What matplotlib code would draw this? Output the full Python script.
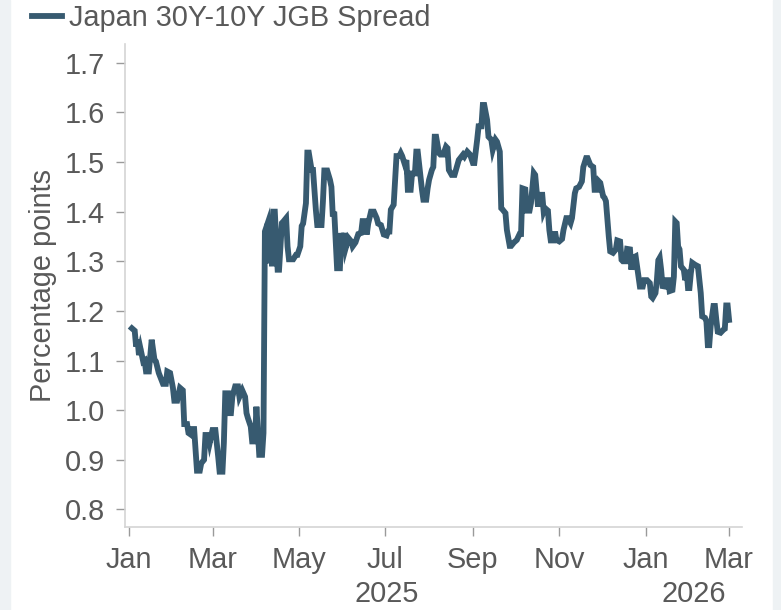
import pandas as pd
import matplotlib
matplotlib.use("Agg")
import matplotlib.pyplot as plt
import matplotlib.dates as mdates
import matplotlib.transforms as mtransforms
from matplotlib.patches import Rectangle

# days since 2025-01-01 and the 30Y-10Y spread (percentage points)
start_date = "2025-01-01"
day_offsets = [
    2, 4, 5, 6, 7, 8, 10, 11, 12, 14, 16, 18, 19, 21, 24, 26, 27, 29, 31, 32,
    34, 36, 38, 39, 41, 42, 44, 45, 46, 48, 50, 51, 53, 54, 56, 57, 59, 61, 62, 63,
    64, 66, 67, 68, 70, 71, 72, 73, 75, 77, 78, 80, 82, 83, 84, 86, 87, 89, 90, 91,
    92, 94, 95, 96, 98, 99, 100, 101, 102, 103, 105, 106, 108, 109,
    111, 112, 113, 116, 118, 119, 121, 122, 123, 125, 126, 127, 129, 130, 132, 133,
    136, 137, 138, 140, 142, 143, 144, 145, 147, 149, 150, 151, 152, 153, 155, 157,
    158, 160, 162, 164, 165, 167, 168, 169, 171, 173, 175, 176, 178, 180, 182, 183,
    184, 185, 187, 189, 191, 192, 193, 195, 196, 197, 199, 200, 202, 203, 204, 206,
    207, 208, 210, 211, 212, 214, 215, 216, 217, 219,
    220, 222, 224, 225, 226, 228, 230, 232, 233, 236, 237, 239, 241, 243, 244, 246,
    247, 249, 250, 251, 253, 254, 256, 257, 259, 260, 262, 263, 264, 266, 267, 269,
    270, 272, 274, 276, 277, 278, 280, 281, 283, 284, 286, 287, 289, 290, 292, 293,
    294, 296, 297, 298, 300, 301, 302, 304, 306, 307, 309, 310, 312, 313, 315, 316,
    318, 320, 321, 323, 324, 326, 328,
    329, 331, 332, 333, 335, 336, 337, 339, 340, 342, 344, 345, 347, 348, 349, 351,
    352, 354, 355, 356, 358, 359, 360, 361, 363, 364, 366, 368, 369, 370, 372, 373,
    374, 375, 376, 377, 379, 380, 381, 382, 384, 385, 386, 387, 388, 389, 390, 392,
    393, 394, 395, 396, 397, 398, 400, 402, 403, 404, 405, 407, 408, 409, 410, 411,
    413, 414, 415, 416, 418, 420, 421, 422, 423, 424,
]
spread = [
    1.165, 1.160, 1.128, 1.142, 1.111, 1.125, 1.098, 1.100, 1.078, 1.078, 1.142, 1.101, 1.098, 1.075, 1.053, 1.053, 1.078, 1.075, 1.045, 1.019,
    1.019, 1.045, 1.040, 0.972, 0.972, 0.954, 0.950, 0.962, 0.962, 0.878, 0.878, 0.893, 0.900, 0.950, 0.950, 0.934, 0.960, 0.960, 0.934, 0.906,
    0.876, 0.876, 0.934, 1.034, 1.034, 0.994, 0.994, 1.027, 1.048, 1.048, 1.027, 1.040, 1.027, 0.994, 0.984, 0.967, 0.937, 0.937, 1.007, 0.960,
    0.910, 0.910, 0.954, 1.360, 1.377, 1.296, 1.377, 1.290, 1.400, 1.400, 1.283, 1.283, 1.377, 1.380,
    1.387, 1.330, 1.304, 1.304, 1.313, 1.313, 1.330, 1.371, 1.376, 1.417, 1.519, 1.519, 1.484, 1.484, 1.404, 1.373,
    1.373, 1.420, 1.483, 1.483, 1.464, 1.450, 1.390, 1.400, 1.286, 1.286, 1.357, 1.330, 1.357, 1.326, 1.347, 1.340,
    1.330, 1.338, 1.355, 1.357, 1.381, 1.381, 1.354, 1.376, 1.400, 1.400, 1.387, 1.376, 1.373, 1.354, 1.352, 1.360,
    1.360, 1.404, 1.414, 1.512, 1.512, 1.518, 1.512, 1.494, 1.504, 1.444, 1.444, 1.477, 1.477, 1.521, 1.521, 1.470,
    1.444, 1.424, 1.424, 1.447, 1.464, 1.484, 1.490, 1.551, 1.551, 1.518,
    1.515, 1.515, 1.531, 1.528, 1.484, 1.474, 1.474, 1.494, 1.504, 1.515, 1.511, 1.521, 1.515, 1.498, 1.498, 1.545,
    1.572, 1.572, 1.615, 1.615, 1.585, 1.551, 1.545, 1.525, 1.545, 1.541, 1.521, 1.407, 1.404, 1.397, 1.363, 1.331,
    1.331, 1.338, 1.343, 1.355, 1.355, 1.447, 1.445, 1.402, 1.402, 1.417, 1.478, 1.474, 1.410, 1.434, 1.434, 1.400,
    1.407, 1.402, 1.363, 1.342, 1.342, 1.360, 1.343, 1.340, 1.345, 1.363, 1.387, 1.387, 1.377, 1.387, 1.437, 1.447,
    1.450, 1.461, 1.490, 1.508, 1.508, 1.494, 1.490,
    1.444, 1.444, 1.461, 1.458, 1.431, 1.428, 1.421, 1.350, 1.320, 1.317, 1.324, 1.342, 1.340, 1.303, 1.300, 1.300,
    1.325, 1.324, 1.283, 1.307, 1.310, 1.290, 1.269, 1.249, 1.249, 1.262, 1.262, 1.256, 1.229, 1.226, 1.236, 1.262,
    1.302, 1.307, 1.283, 1.250, 1.249, 1.262, 1.262, 1.240, 1.242, 1.269, 1.380, 1.377, 1.330, 1.324, 1.290, 1.283,
    1.262, 1.283, 1.246, 1.246, 1.276, 1.297, 1.293, 1.290, 1.262, 1.236, 1.189, 1.186, 1.179, 1.131, 1.131, 1.169,
    1.210, 1.210, 1.182, 1.158, 1.156, 1.162, 1.164, 1.211, 1.211, 1.182,
]
series_name = "Japan 30Y-10Y JGB Spread"
y_ticks = [0.8, 0.9, 1.0, 1.1, 1.2, 1.3, 1.4, 1.5, 1.6, 1.7]
year_labels = ["2025", "2026"]
year_label_dates = ["2025-07-02", "2026-02-04"]

dates = pd.Timestamp(start_date) + pd.to_timedelta(day_offsets, unit="D")

line_color = "#375a70"
text_color = "#595959"
fs = 20.8

plt.rcParams["font.family"] = ["Liberation Sans", "DejaVu Sans"]

fig = plt.figure(figsize=(7.81, 6.10), dpi=100)
# light side strips of the page background
fig.patches.append(Rectangle((0, 0), 10 / 781, 1, transform=fig.transFigure,
                             color="#eef2f4", zorder=-1))
fig.patches.append(Rectangle((773 / 781, 0), 8 / 781, 1, transform=fig.transFigure,
                             color="#eef2f4", zorder=-1))

ax = fig.add_axes([0.1598, 0.136, 0.790, 0.792])
ax.plot(dates, spread, color=line_color, lw=4.2, solid_joinstyle="miter",
        label=series_name)

ax.set_xlim(pd.Timestamp("2024-12-29"), pd.Timestamp("2026-03-10"))
ax.set_ylim(0.7645, 1.738)
ax.set_yticks(y_ticks)
ax.set_yticklabels([f"{v:.1f}" for v in y_ticks])

ax.xaxis.set_major_locator(mdates.MonthLocator(bymonth=[1, 3, 5, 7, 9, 11]))
ax.xaxis.set_major_formatter(mdates.DateFormatter("%b"))

for side in ["top", "right"]:
    ax.spines[side].set_visible(False)
for side in ["left", "bottom"]:
    ax.spines[side].set_color("#d4d4d4")
    ax.spines[side].set_linewidth(1.2)

ax.tick_params(axis="both", labelsize=fs, labelcolor=text_color, color="#9a9a9a",
               length=6.5, width=1)
ax.tick_params(axis="y", pad=8)
ax.tick_params(axis="x", pad=7)

ax.set_ylabel("Percentage points", fontsize=fs, color=text_color, labelpad=5)

trans = mtransforms.blended_transform_factory(ax.transData, ax.transAxes)
for lab, d in zip(year_labels, year_label_dates):
    ax.text(pd.Timestamp(d), -0.139, lab, transform=trans, ha="center", va="center",
            fontsize=fs, color=text_color)

fig.legend(loc="center left", bbox_to_anchor=(32 / 781, 1 - 18 / 610), frameon=False,
           fontsize=fs, handlelength=1.05, handletextpad=0.22, borderpad=0,
           borderaxespad=0, labelcolor=text_color)

fig.savefig("out.png", dpi=100)
